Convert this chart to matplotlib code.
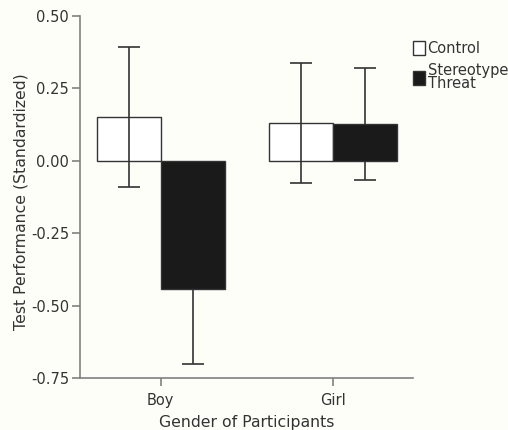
import matplotlib
matplotlib.use("Agg")
import matplotlib.pyplot as plt
import numpy as np

# data
groups = ["Boy", "Girl"]
conditions = ["Control", "Stereotype\nThreat"]
control_mean = [0.151, 0.131]
control_err = [0.242, 0.207]
threat_mean = [-0.442, 0.127]
threat_err = [0.26, 0.194]
yticks = [0.50, 0.25, 0.00, -0.25, -0.50, -0.75]

bg = "#fefef9"
fig = plt.figure(figsize=(5.08, 4.3), dpi=100, facecolor=bg)
ax = fig.add_axes([80/508, 52/430, 333/508, 362/430], facecolor=bg)

x = np.arange(len(groups))
w = 0.371
ax.bar(x - w/2, control_mean, w, color="white", edgecolor="#333333", linewidth=1, label=conditions[0], zorder=2)
ax.bar(x + w/2, threat_mean, w, color="#1a1a1a", edgecolor="#333333", linewidth=1, label=conditions[1], zorder=2)
# control whiskers show through the white bars, threat whiskers sit behind the black bars
ax.errorbar(x - w/2, control_mean, yerr=control_err, fmt="none", ecolor="#333333", elinewidth=1.2, capsize=8, capthick=1.2, zorder=3)
ax.errorbar(x + w/2, threat_mean, yerr=threat_err, fmt="none", ecolor="#333333", elinewidth=1.2, capsize=8, capthick=1.2, zorder=1)

ax.set_xlim(-0.467, 1.464)
ax.set_ylim(-0.75, 0.50)
ax.set_yticks(yticks)
ax.set_yticklabels(["%.2f" % v for v in yticks])
ax.set_xticks(x)
ax.set_xticklabels(groups)

for s in ["top", "right"]:
    ax.spines[s].set_visible(False)
for s in ["left", "bottom"]:
    ax.spines[s].set_color("#808080")
    ax.spines[s].set_linewidth(1.2)
ax.tick_params(axis="both", colors="#808080", length=6, width=1.2, pad=2, labelcolor="#333333", labelsize=10.5)
ax.tick_params(axis="x", pad=5)

ax.set_xlabel("Gender of Participants", fontsize=11.3, color="#333333", labelpad=5)
ax.set_ylabel("Test Performance (Standardized)", fontsize=11.3, color="#333333")
ax.yaxis.set_label_coords(-0.156, 0.486)

leg = ax.legend(loc="upper left", bbox_to_anchor=(413/508, 1 - 41/430), bbox_transform=fig.transFigure,
                frameon=False, fontsize=10.5, handlelength=0.8, handleheight=1.1, handletextpad=0.2,
                labelspacing=0.45, borderpad=0, borderaxespad=0)
for t in leg.get_texts():
    t.set_color("#333333")
    t.set_linespacing(0.85)

fig.savefig("out.png", dpi=100, facecolor=bg)
